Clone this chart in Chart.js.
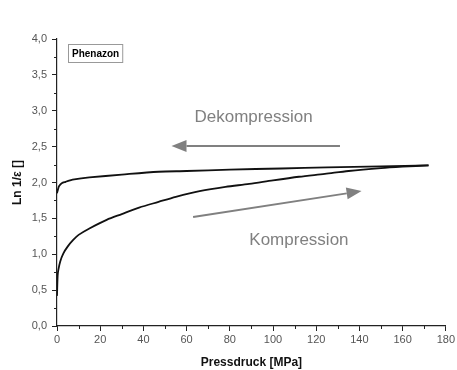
<!DOCTYPE html>
<html>
<head>
<meta charset="utf-8">
<script src="https://cdn.jsdelivr.net/npm/chart.js@4"></script>
<style>
  html, body { margin: 0; padding: 0; background: #fff; }
  #wrap { width: 457px; height: 370px; }
</style>
</head>
<body>
<div id="wrap"><canvas id="chart" width="457" height="370"></canvas></div>
<script>
// Kompression (loading) curve
const compX = [0, 0.3, 0.6, 1.5, 2.9, 5, 7.5, 10, 15, 23, 30, 38, 47, 55, 66, 78, 89, 100, 112, 124, 135, 150, 160, 172];
const compY = [0.42, 0.7, 0.78, 0.9, 1.01, 1.11, 1.2, 1.27, 1.36, 1.48, 1.56, 1.65, 1.73, 1.8, 1.88, 1.94, 1.98, 2.03, 2.08, 2.12, 2.16, 2.2, 2.22, 2.24];
// Dekompression (unloading) curve
const dekX = [172, 150, 125, 104, 80, 60, 47, 30, 15, 8, 6, 4, 2.2, 1, 0.5, 0];
const dekY = [2.24, 2.225, 2.21, 2.195, 2.18, 2.16, 2.15, 2.11, 2.07, 2.045, 2.03, 2.01, 1.99, 1.95, 1.91, 1.85];

const legendName = 'Phenazon';
const xTitle = 'Pressdruck [MPa]';
const yTitle = 'Ln 1/\u03b5 []';

// annotation arrows in data coordinates
const arrows = [
  { from: [131, 2.51], to: [53, 2.51], label: 'Dekompression', at: [91, 2.91] },
  { from: [63, 1.52], to: [141, 1.88], label: 'Kompression', at: [112, 1.19] }
];

function toPts(xs, ys) {
  return xs.map((x, i) => ({ x: x, y: ys[i] }));
}

const decor = {
  id: 'decor',
  afterDraw(chart) {
    const ctx = chart.ctx;
    const xs = chart.scales.x, ys = chart.scales.y;
    ctx.save();
    // minor ticks
    ctx.strokeStyle = '#222';
    ctx.lineWidth = 1;
    for (let v = 10; v < 180; v += 20) {
      const px = Math.round(xs.getPixelForValue(v)) + 0.5;
      ctx.beginPath();
      ctx.moveTo(px, ys.bottom);
      ctx.lineTo(px, ys.bottom + 3);
      ctx.stroke();
    }
    for (let v = 0.25; v < 4; v += 0.5) {
      const py = Math.round(ys.getPixelForValue(v)) + 0.5;
      ctx.beginPath();
      ctx.moveTo(xs.left, py);
      ctx.lineTo(xs.left - 3, py);
      ctx.stroke();
    }
    // legend box
    const lx = xs.left + 11, ly = ys.top + 5;
    ctx.font = 'bold 10px "Liberation Sans", Arial, sans-serif';
    const w = ctx.measureText(legendName).width + 7;
    ctx.fillStyle = '#fff';
    ctx.fillRect(lx, ly, w, 18);
    ctx.strokeStyle = '#999';
    ctx.strokeRect(lx + 0.5, ly + 0.5, w, 18);
    ctx.fillStyle = '#000';
    ctx.textBaseline = 'middle';
    ctx.fillText(legendName, lx + 4, ly + 10);
    // arrows and their labels
    ctx.strokeStyle = '#808080';
    ctx.fillStyle = '#808080';
    ctx.lineWidth = 2;
    arrows.forEach(a => {
      const x1 = xs.getPixelForValue(a.from[0]), y1 = ys.getPixelForValue(a.from[1]);
      const x2 = xs.getPixelForValue(a.to[0]), y2 = ys.getPixelForValue(a.to[1]);
      const ang = Math.atan2(y2 - y1, x2 - x1);
      const hl = 15, hw = 6;
      const bx = x2 - hl * Math.cos(ang), by = y2 - hl * Math.sin(ang);
      ctx.beginPath();
      ctx.moveTo(x1, y1);
      ctx.lineTo(bx, by);
      ctx.stroke();
      ctx.beginPath();
      ctx.moveTo(x2, y2);
      ctx.lineTo(bx + hw * Math.sin(ang), by - hw * Math.cos(ang));
      ctx.lineTo(bx - hw * Math.sin(ang), by + hw * Math.cos(ang));
      ctx.closePath();
      ctx.fill();
      ctx.font = '17px "Liberation Sans", Arial, sans-serif';
      ctx.textAlign = 'center';
      ctx.textBaseline = 'middle';
      ctx.fillText(a.label, xs.getPixelForValue(a.at[0]), ys.getPixelForValue(a.at[1]));
    });
    ctx.restore();
  }
};

new Chart(document.getElementById('chart'), {
  type: 'scatter',
  data: {
    datasets: [
      { label: 'Kompression', data: toPts(compX, compY), showLine: true, borderColor: '#111', borderWidth: 1.8, pointRadius: 0, tension: 0.3 },
      { label: 'Dekompression', data: toPts(dekX, dekY), showLine: true, borderColor: '#111', borderWidth: 1.8, pointRadius: 0, tension: 0.3 }
    ]
  },
  options: {
    responsive: false,
    animation: false,
    layout: { padding: { top: 39, right: 10, left: 0, bottom: 0 } },
    plugins: { legend: { display: false }, tooltip: { enabled: false } },
    scales: {
      x: {
        type: 'linear', min: 0, max: 180,
        border: { color: '#222', width: 1.2 },
        grid: { drawOnChartArea: false, tickLength: 5, color: '#222' },
        ticks: { stepSize: 20, padding: 2, color: '#555', font: { family: '"Liberation Sans", Arial, sans-serif', size: 11 }, maxRotation: 0 },
        title: { display: true, text: xTitle, color: '#111', font: { family: '"Liberation Sans", Arial, sans-serif', size: 12, weight: 'bold' }, padding: { top: 4, bottom: 0 } },
        afterFit(s) { s.height = 44; }
      },
      y: {
        type: 'linear', min: 0, max: 4,
        border: { color: '#222', width: 1.2 },
        grid: { drawOnChartArea: false, tickLength: 5, color: '#222' },
        ticks: { stepSize: 0.5, padding: 5, color: '#555', font: { family: '"Liberation Sans", Arial, sans-serif', size: 11 },
          callback: v => v.toFixed(1).replace('.', ',') },
        title: { display: true, text: yTitle, color: '#111', font: { family: '"Liberation Sans", Arial, sans-serif', size: 12, weight: 'bold' }, padding: { top: 10, bottom: 4 } },
        afterFit(s) { s.width = 57; }
      }
    }
  },
  plugins: [decor]
});
</script>
</body>
</html>
